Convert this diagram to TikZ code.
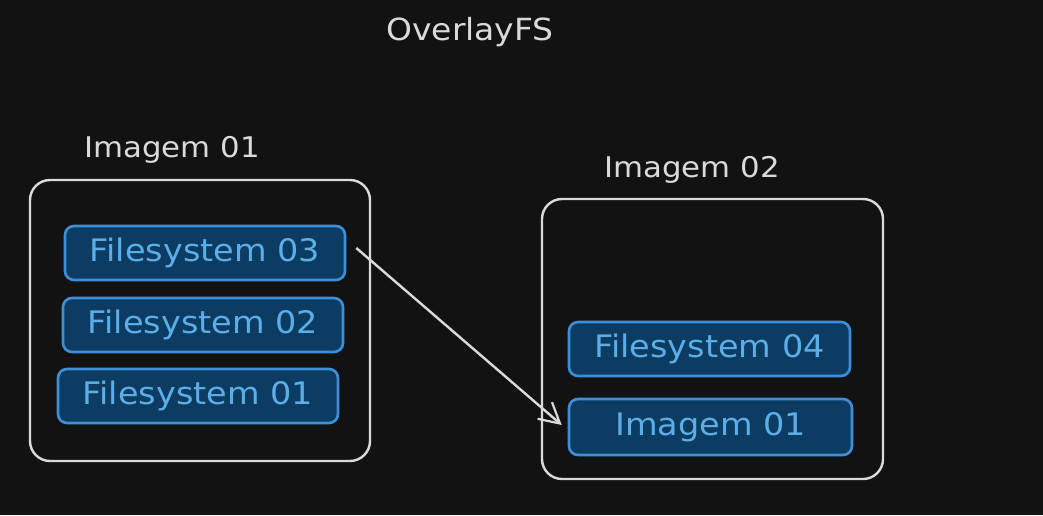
\documentclass[tikz,border=0pt]{standalone}
\usepackage{fontspec}
\setmainfont{DejaVu Sans}[FakeStretch=1.08]
\usetikzlibrary{arrows.meta}
\definecolor{bgc}{HTML}{121212}
\definecolor{fsfill}{HTML}{0D3C62}
\definecolor{fsdraw}{HTML}{3D8FD9}
\definecolor{fstext}{HTML}{5CAEE8}
\definecolor{framec}{HTML}{DADADA}
\tikzset{
  fsbox/.style={draw=fsdraw, fill=fsfill, line width=2.6pt, rounded corners=9pt,
    text=fstext, font=\fontsize{31}{33}\selectfont, inner sep=0pt},
  frame/.style={draw=framec, line width=2.4pt, rounded corners=20pt, inner sep=0pt},
  lbl/.style={text=framec, font=\fontsize{28.5}{30}\selectfont, inner sep=0pt},
  conn/.style={draw=framec, line width=2.4pt, -{Straight Barb[length=20pt,width=22pt,line width=2.2pt]}}
}
\begin{document}
\begin{tikzpicture}[x=1pt,y=-1pt]
\fill[bgc] (0,0) rectangle (1043,515);
\useasboundingbox (0,0) rectangle (1043,515);

\node[lbl, font=\fontsize{30.5}{32}\selectfont] (title) at (470,32) {OverlayFS};

% Image 01
\node[lbl] (l1) at (172,150) {Imagem 01};
\node[frame, minimum width=340pt, minimum height=281pt] (b1) at (200,320.5) {};
\node[fsbox, minimum width=280pt, minimum height=54pt] (fs3) at (205,253) {Filesystem 03};
\node[fsbox, minimum width=280pt, minimum height=54pt] (fs2) at (203,325) {Filesystem 02};
\node[fsbox, minimum width=280pt, minimum height=54pt] (fs1) at (198,396) {Filesystem 01};

% Image 02
\node[lbl] (l2) at (692,170) {Imagem 02};
\node[frame, minimum width=341pt, minimum height=280pt] (b2) at (712.5,339) {};
\node[fsbox, minimum width=281pt, minimum height=54pt] (fs4) at (709.5,349) {Filesystem 04};
\node[fsbox, minimum width=283pt, minimum height=56pt] (img) at (710.5,427) {Imagem 01};

\draw[conn] ([xshift=10pt,yshift=5pt]fs3.east) -- ([xshift=-6pt,yshift=2pt]img.west);
\end{tikzpicture}
\end{document}
